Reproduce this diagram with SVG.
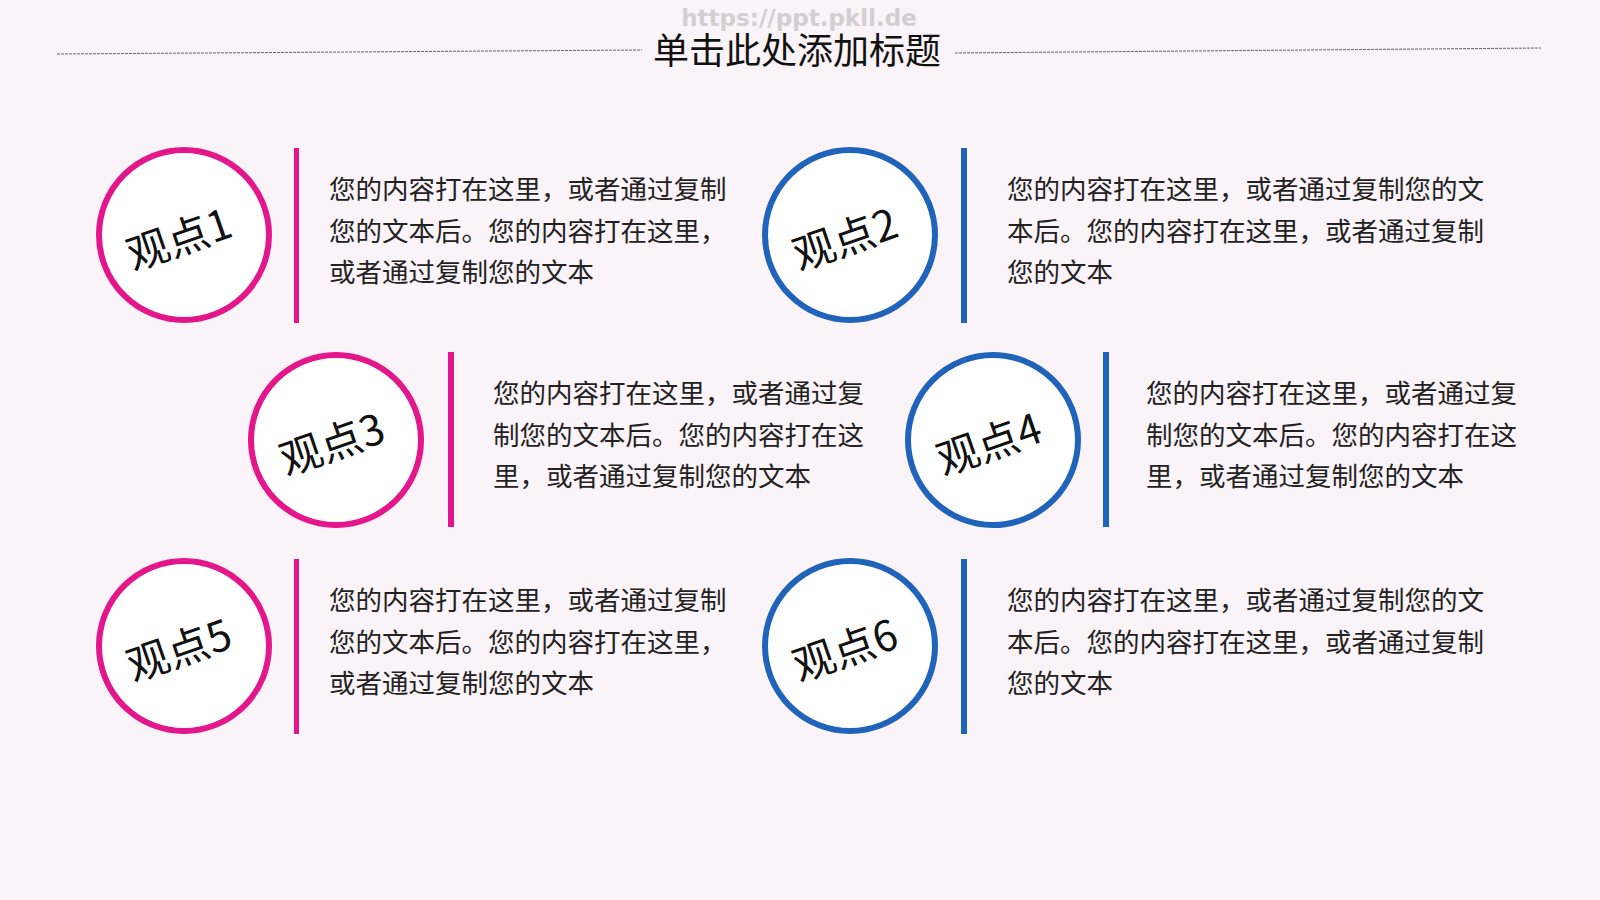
<svg xmlns="http://www.w3.org/2000/svg" width="1600" height="900" viewBox="0 0 1600 900">
<style>
.bg{fill:#FAF3F7}
.ring{fill:#FFFFFF;stroke-width:6}
.pink{stroke:#E3168C}
.blue{stroke:#1F63BA}
.barp{fill:#E3168C}
.barb{fill:#1F63BA}
.lbl{font-family:"Noto Sans CJK SC","Noto Sans",sans-serif;font-size:42px;fill:#111;text-anchor:middle;dominant-baseline:central}
.body{font-family:"Noto Sans CJK SC","Noto Sans",sans-serif;font-size:26.5px;fill:#222}
.title{font-family:"Noto Sans CJK SC","Noto Sans",sans-serif;font-size:36px;fill:#111;text-anchor:middle}
.wm{font-family:"DejaVu Sans",sans-serif;font-size:23px;font-weight:bold;fill:#D3CFD1;text-anchor:middle}
.dash{stroke:#666;stroke-width:1;stroke-dasharray:3 1;fill:none}
</style>
<rect class="bg" x="0" y="0" width="1600" height="900"/>
<g id="header">
<text class="wm" x="799" y="26">https://ppt.pkll.de</text>
<line class="dash" x1="57" y1="54" x2="642" y2="50"/>
<line class="dash" x1="955" y1="53" x2="1541" y2="48"/>
<text class="title" x="797" y="64">单击此处添加标题</text>
</g>
<g id="node1">
<circle class="ring pink" cx="184" cy="235" r="85"/>
<text class="lbl" x="178" y="236" transform="rotate(-19 178 236)">观点1</text>
<rect class="barp" x="294" y="148" width="5" height="175"/>
<text class="body" x="329"><tspan x="329" y="199">您的内容打在这里，或者通过复制</tspan><tspan x="329" y="241">您的文本后。您的内容打在这里，</tspan><tspan x="329" y="282">或者通过复制您的文本</tspan></text>
</g>
<g id="node2">
<circle class="ring blue" cx="850" cy="235" r="85"/>
<text class="lbl" x="844" y="236" transform="rotate(-19 844 236)">观点2</text>
<rect class="barb" x="961" y="148" width="6" height="175"/>
<text class="body" x="1007"><tspan x="1007" y="199">您的内容打在这里，或者通过复制您的文</tspan><tspan x="1007" y="241">本后。您的内容打在这里，或者通过复制</tspan><tspan x="1007" y="282">您的文本</tspan></text>
</g>
<g id="node3">
<circle class="ring pink" cx="336" cy="440" r="85"/>
<text class="lbl" x="331" y="441" transform="rotate(-19 331 441)">观点3</text>
<rect class="barp" x="448" y="352" width="6" height="175"/>
<text class="body" x="493"><tspan x="493" y="403">您的内容打在这里，或者通过复</tspan><tspan x="493" y="445">制您的文本后。您的内容打在这</tspan><tspan x="493" y="486">里，或者通过复制您的文本</tspan></text>
</g>
<g id="node4">
<circle class="ring blue" cx="993" cy="440" r="85"/>
<text class="lbl" x="988" y="441" transform="rotate(-19 988 441)">观点4</text>
<rect class="barb" x="1103" y="352" width="6" height="175"/>
<text class="body" x="1146"><tspan x="1146" y="403">您的内容打在这里，或者通过复</tspan><tspan x="1146" y="445">制您的文本后。您的内容打在这</tspan><tspan x="1146" y="486">里，或者通过复制您的文本</tspan></text>
</g>
<g id="node5">
<circle class="ring pink" cx="184" cy="646" r="85"/>
<text class="lbl" x="178" y="647" transform="rotate(-19 178 647)">观点5</text>
<rect class="barp" x="294" y="559" width="5" height="175"/>
<text class="body" x="329"><tspan x="329" y="610">您的内容打在这里，或者通过复制</tspan><tspan x="329" y="652">您的文本后。您的内容打在这里，</tspan><tspan x="329" y="693">或者通过复制您的文本</tspan></text>
</g>
<g id="node6">
<circle class="ring blue" cx="850" cy="646" r="85"/>
<text class="lbl" x="844" y="647" transform="rotate(-19 844 647)">观点6</text>
<rect class="barb" x="961" y="559" width="6" height="175"/>
<text class="body" x="1007"><tspan x="1007" y="610">您的内容打在这里，或者通过复制您的文</tspan><tspan x="1007" y="652">本后。您的内容打在这里，或者通过复制</tspan><tspan x="1007" y="693">您的文本</tspan></text>
</g>
<g id="connectors"></g>
</svg>
